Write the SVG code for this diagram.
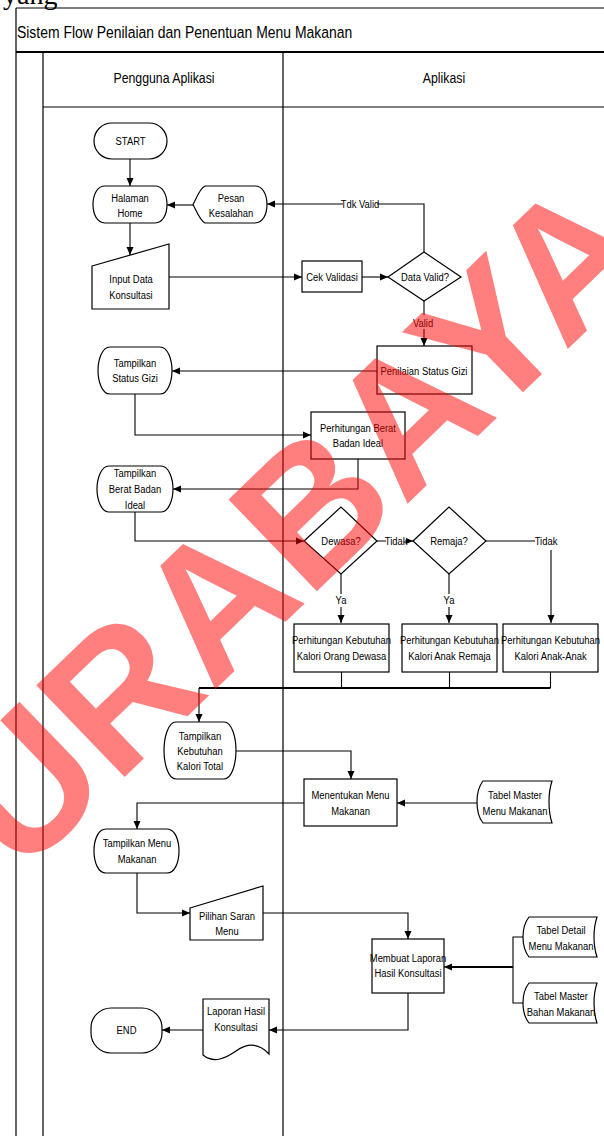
<svg xmlns="http://www.w3.org/2000/svg" width="604" height="1136" viewBox="0 0 604 1136">
  <style>
    .frame { fill: none; stroke: #000; stroke-width: 1.2; }
    .shape { fill: #fff; stroke: #000; stroke-width: 1.2; }
    .conn { fill: none; stroke: #000; stroke-width: 1.1; }
    .thick { fill: none; stroke: #000; stroke-width: 2.2; }
    .t, .hdr, .title { font-family: "Liberation Sans", Arial, sans-serif; fill: #000; transform-box: fill-box; }
    .t { font-size: 11.5px; text-anchor: middle; transform-origin: center; transform: scaleX(0.82); }
    .hdr { font-size: 15px; text-anchor: middle; transform-origin: center; transform: scaleX(0.82); }
    .title { font-size: 17px; transform-origin: left center; transform: scaleX(0.82); }
    .lblbg { fill: #fff; }
    .mark { font-family: "Liberation Sans", Arial, sans-serif; font-weight: bold; font-size: 185px; fill: #ff0000; fill-opacity: 0.5; }
  </style>
  <defs>
    <marker id="arrow" markerWidth="8" markerHeight="8" refX="8" refY="4" orient="auto" markerUnits="userSpaceOnUse">
      <path d="M0,0.5 L8,4 L0,7.5 Z" fill="#000"/>
    </marker>
  </defs>

  <rect width="604" height="1136" fill="#fff"/>

  <!-- text running in from the page above -->
  <text x="3" y="4" font-family="Liberation Serif, serif" font-size="28" fill="#000">yang</text>

  <!-- pool frame and swimlanes -->
  <g id="pool">
    <path class="frame" d="M16,8 H604 M16,8 V1136"/>
    <path d="M16,52 H604" stroke="#000" stroke-width="2.2"/>
    <path class="frame" d="M43,52 V1136 M283,52 V1136 M43,107 H604"/>
    <text class="title" x="17" y="38">Sistem Flow Penilaian dan Penentuan Menu Makanan</text>
    <text class="hdr" x="164" y="83">Pengguna Aplikasi</text>
    <text class="hdr" x="444" y="83">Aplikasi</text>
  </g>

  <!-- connectors -->
  <g id="connectors">
    <path class="conn" d="M130,159 V186" marker-end="url(#arrow)"/>
    <path class="conn" d="M130,223 V255" marker-end="url(#arrow)"/>
    <path class="conn" d="M193,205 H167" marker-end="url(#arrow)"/>
    <path class="conn" d="M424,252 V204 H267" marker-end="url(#arrow)"/>
    <path class="conn" d="M169,277 H302" marker-end="url(#arrow)"/>
    <path class="conn" d="M362,277 H388" marker-end="url(#arrow)"/>
    <path class="conn" d="M424,301 V346" marker-end="url(#arrow)"/>
    <path class="conn" d="M377,371 H172" marker-end="url(#arrow)"/>
    <path class="conn" d="M135,394 V435 H311" marker-end="url(#arrow)"/>
    <path class="conn" d="M358,459 V489 H173" marker-end="url(#arrow)"/>
    <path class="conn" d="M135,512 V541 H304" marker-end="url(#arrow)"/>
    <path class="conn" d="M377,541 H413" marker-end="url(#arrow)"/>
    <path class="conn" d="M341,574 V623" marker-end="url(#arrow)"/>
    <path class="conn" d="M449,574 V623" marker-end="url(#arrow)"/>
    <path class="conn" d="M486,541 H551 V623" marker-end="url(#arrow)"/>
    <path class="conn" d="M341.5,672 V688 M449.5,672 V688 M550.5,672 V688"/>
    <path class="thick" d="M550.5,688 H199"/>
    <path class="conn" d="M199,688 V722" marker-end="url(#arrow)"/>
    <path class="conn" d="M236,751 H351 V779" marker-end="url(#arrow)"/>
    <path class="conn" d="M477,803 H397" marker-end="url(#arrow)"/>
    <path class="conn" d="M304,803 H137 V829" marker-end="url(#arrow)"/>
    <path class="conn" d="M137,873 V913 H190" marker-end="url(#arrow)"/>
    <path class="conn" d="M263,913 H408 V939" marker-end="url(#arrow)"/>
    <path class="conn" d="M524,937 H513 V1003 H524"/>
    <path class="thick" d="M513,967 H452"/>
    <path class="conn" d="M455,967 H444" marker-end="url(#arrow)"/>
    <path class="conn" d="M408,993 V1030 H269" marker-end="url(#arrow)"/>
    <path class="conn" d="M203,1030 H162" marker-end="url(#arrow)"/>

    <!-- connector labels -->
    <rect class="lblbg" x="343" y="197" width="34" height="13"/>
    <text class="t" x="360" y="208">Tdk Valid</text>
    <rect class="lblbg" x="413" y="315" width="21" height="14"/>
    <text class="t" x="423" y="327">Valid</text>
    <rect class="lblbg" x="386" y="535" width="20" height="13"/>
    <text class="t" x="396" y="545">Tidak</text>
    <rect class="lblbg" x="335" y="594" width="12" height="13"/>
    <text class="t" x="341" y="604">Ya</text>
    <rect class="lblbg" x="443" y="594" width="12" height="13"/>
    <text class="t" x="449" y="604">Ya</text>
    <rect class="lblbg" x="535" y="535" width="22" height="15"/>
    <text class="t" x="546" y="545">Tidak</text>
  </g>

  <!-- nodes -->
  <g id="start">
    <rect class="shape" x="94" y="123" width="73" height="36" rx="18"/>
    <text class="t" x="130.5" y="145">START</text>
  </g>
  <g id="halaman-home">
    <path class="shape" d="M105,186 H155 C163,186 167,195 167,204.5 C167,214 163,223 155,223 H105 C97,223 93,214 93,204.5 C93,195 97,186 105,186 Z"/>
    <text class="t" x="130" y="202">Halaman</text>
    <text class="t" x="130" y="217">Home</text>
  </g>
  <g id="pesan-kesalahan">
    <path class="shape" d="M205,186 H255 C263,186 267,195 267,204.5 C267,214 263,223 255,223 H205 C200,221 196,210 193,204.5 C196,199 200,188 205,186 Z"/>
    <text class="t" x="231" y="202">Pesan</text>
    <text class="t" x="231" y="217">Kesalahan</text>
  </g>
  <g id="input-data">
    <path class="shape" d="M92,266 L169,244 V309 H92 Z"/>
    <text class="t" x="131" y="283">Input Data</text>
    <text class="t" x="131" y="299">Konsultasi</text>
  </g>
  <g id="cek-validasi">
    <rect class="shape" x="302" y="261" width="60" height="31"/>
    <text class="t" x="332" y="281">Cek Validasi</text>
  </g>
  <g id="data-valid">
    <path class="shape" d="M388,277 L424,252 L461,277 L424,301 Z"/>
    <text class="t" x="425" y="281">Data Valid?</text>
  </g>
  <g id="penilaian-status-gizi">
    <rect class="shape" x="377" y="346" width="95" height="48"/>
    <text class="t" x="424" y="375">Penilaian Status Gizi</text>
  </g>
  <g id="tampilkan-status-gizi">
    <path class="shape" d="M110,347 H160 C168,347 172,360 172,370.5 C172,381 168,394 160,394 H110 C102,394 98,381 98,370.5 C98,360 102,347 110,347 Z"/>
    <text class="t" x="135" y="367">Tampilkan</text>
    <text class="t" x="135" y="382">Status Gizi</text>
  </g>
  <g id="perhitungan-berat">
    <rect class="shape" x="311" y="412" width="94" height="47"/>
    <text class="t" x="358" y="432">Perhitungan Berat</text>
    <text class="t" x="358" y="447">Badan Ideal</text>
  </g>
  <g id="tampilkan-bbi">
    <path class="shape" d="M109,466 H161 C169,466 173,479 173,489 C173,499 169,512 161,512 H109 C101,512 97,499 97,489 C97,479 101,466 109,466 Z"/>
    <text class="t" x="135" y="477">Tampilkan</text>
    <text class="t" x="135" y="493">Berat Badan</text>
    <text class="t" x="135" y="509">Ideal</text>
  </g>
  <g id="dewasa">
    <path class="shape" d="M304,541 L341,507 L377,541 L341,574 Z"/>
    <text class="t" x="341" y="545">Dewasa?</text>
  </g>
  <g id="remaja">
    <path class="shape" d="M413,541 L449,507 L486,541 L449,574 Z"/>
    <text class="t" x="449" y="545">Remaja?</text>
  </g>
  <g id="kalori-dewasa">
    <rect class="shape" x="294" y="624" width="95" height="48"/>
    <text class="t" x="341.5" y="644">Perhitungan Kebutuhan</text>
    <text class="t" x="341.5" y="660">Kalori Orang Dewasa</text>
  </g>
  <g id="kalori-remaja">
    <rect class="shape" x="402" y="624" width="95" height="48"/>
    <text class="t" x="449.5" y="644">Perhitungan Kebutuhan</text>
    <text class="t" x="449.5" y="660">Kalori Anak Remaja</text>
  </g>
  <g id="kalori-anak">
    <rect class="shape" x="503" y="624" width="95" height="48"/>
    <text class="t" x="550.5" y="644">Perhitungan Kebutuhan</text>
    <text class="t" x="550.5" y="660">Kalori Anak-Anak</text>
  </g>
  <g id="tampilkan-kalori-total">
    <path class="shape" d="M176,722 H224 C232,722 236,738 236,750.5 C236,763 232,779 224,779 H176 C168,779 164,763 164,750.5 C164,738 168,722 176,722 Z"/>
    <text class="t" x="200" y="740">Tampilkan</text>
    <text class="t" x="200" y="755">Kebutuhan</text>
    <text class="t" x="200" y="770">Kalori Total</text>
  </g>
  <g id="menentukan-menu">
    <rect class="shape" x="304" y="779" width="93" height="47"/>
    <text class="t" x="350.5" y="799">Menentukan Menu</text>
    <text class="t" x="350.5" y="815">Makanan</text>
  </g>
  <g id="tabel-master-menu">
    <path class="shape" d="M483,781 H552 C548,793 548,811 552,823 H483 C475,813 475,791 483,781 Z"/>
    <text class="t" x="515" y="799">Tabel Master</text>
    <text class="t" x="515" y="815">Menu Makanan</text>
  </g>
  <g id="tampilkan-menu">
    <path class="shape" d="M106,829 H167 C175,829 179,840 179,851 C179,862 175,873 167,873 H106 C98,873 94,862 94,851 C94,840 98,829 106,829 Z"/>
    <text class="t" x="137" y="847">Tampilkan Menu</text>
    <text class="t" x="137" y="863">Makanan</text>
  </g>
  <g id="pilihan-saran">
    <path class="shape" d="M190,908 L263,886 V940 H190 Z"/>
    <text class="t" x="227" y="920">Pilihan Saran</text>
    <text class="t" x="227" y="935">Menu</text>
  </g>
  <g id="membuat-laporan">
    <rect class="shape" x="372" y="939" width="72" height="54"/>
    <text class="t" x="408" y="962">Membuat Laporan</text>
    <text class="t" x="408" y="977">Hasil Konsultasi</text>
  </g>
  <g id="tabel-detail-menu">
    <path class="shape" d="M529,917 H597 C593,929 593,945 597,957 H529 C521,947 521,927 529,917 Z"/>
    <text class="t" x="561" y="934">Tabel Detail</text>
    <text class="t" x="561" y="950">Menu Makanan</text>
  </g>
  <g id="tabel-master-bahan">
    <path class="shape" d="M529,983 H597 C593,995 593,1011 597,1023 H529 C521,1013 521,993 529,983 Z"/>
    <text class="t" x="561" y="1000">Tabel Master</text>
    <text class="t" x="561" y="1016">Bahan Makanan</text>
  </g>
  <g id="laporan-hasil">
    <path class="shape" d="M203,999 H269 V1054 C258,1042 246,1044 236,1051 C226,1058 214,1064 203,1055 Z"/>
    <text class="t" x="236" y="1015">Laporan Hasil</text>
    <text class="t" x="236" y="1031">Konsultasi</text>
  </g>
  <g id="end">
    <rect class="shape" x="91" y="1008" width="71" height="45" rx="20"/>
    <text class="t" x="126.5" y="1034">END</text>
  </g>

  <!-- campus watermark over the page -->
  <text class="mark" transform="translate(-69,964) rotate(-44)">SURABAYA</text>
</svg>
